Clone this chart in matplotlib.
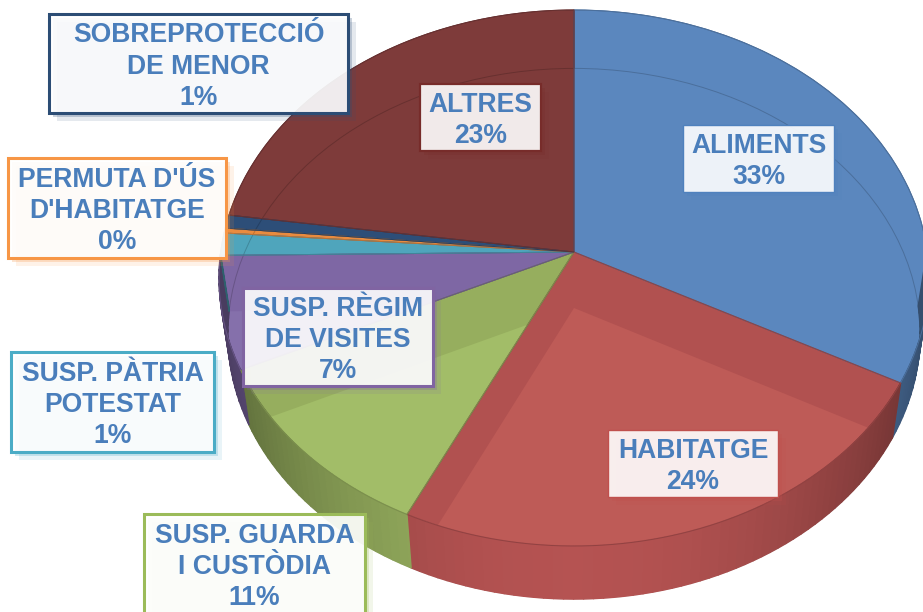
import numpy as np
import matplotlib
matplotlib.use('Agg')
import matplotlib.pyplot as plt
import matplotlib.patheffects as pe
from matplotlib.collections import PolyCollection
from matplotlib.colors import to_rgb
from matplotlib.patches import Circle, Polygon, Rectangle
from matplotlib.path import Path
from matplotlib.transforms import Transform

# Chart data
categories = ['ALIMENTS', 'HABITATGE', 'SUSP. GUARDA\nI CUSTÒDIA', 'SUSP. RÈGIM\nDE VISITES',
              'SUSP. PÀTRIA\nPOTESTAT', "PERMUTA D'ÚS\nD'HABITATGE", 'SOBREPROTECCIÓ\nDE MENOR', 'ALTRES']
values = [32.8, 24.3, 10.9, 6.8, 1.35, 0.3, 0.8, 22.75]
percent_labels = ['33%', '24%', '11%', '7%', '1%', '0%', '1%', '23%']

# Colours of the slices
top_colors = ['#5B87BE', '#B15150', '#96AE5E', '#7E67A4', '#4FA5BC', '#E98B3F', '#2D4E78', '#7E3B3A']
low_colors = ['#5B87BE', '#BE5B57', '#A2BD68', '#8570AB', '#4FA5BC', '#E98B3F', '#2D4E78', '#7E3B3A']
border_colors = ['#4F81BD', '#C0504D', '#9BBB59', '#8064A2', '#4BACC6', '#F79646', '#2C4D75', '#772C2A']

# Label boxes: left, top, right, bottom in pixels
label_boxes = [(683, 125, 834, 192), (608, 430, 778, 497), (144, 514, 365, 614), (243, 288, 433, 386),
               (11, 352, 214, 452), (8, 158, 226, 258), (49, 14, 348, 113), (420, 84, 541, 151)]
border_widths = [1.0, 1.0, 2.2, 2.2, 2.2, 2.2, 2.2, 1.6]


class Tilt(Transform):
    # Perspective view of the flat unit pie, the apex sits above the ellipse centre
    input_dims = 2
    output_dims = 2

    def __init__(self, scale_x=1.0, scale_y=1.0, shift=0.0):
        super().__init__()
        self.scale_x = scale_x
        self.scale_y = scale_y
        self.shift = shift

    def transform_non_affine(self, values):
        xy = np.asarray(values, dtype=float)
        w = 1 + 0.097 * xy[:, 1]
        px = 574 + self.scale_x * 353.3 * xy[:, 0] / w
        py = 252 + self.shift - self.scale_y * 265.5 * xy[:, 1] / w
        return np.column_stack([px, py])

    def transform_path_non_affine(self, path):
        return Path(self.transform_non_affine(path.vertices), path.codes)


def slice_outline(wedge, view):
    # Slice as a polygon in pixels: apex, then the arc
    t = np.radians(np.linspace(wedge.theta1, wedge.theta2, 60))
    unit = np.vstack([[0, 0], np.column_stack([np.cos(t), np.sin(t)])])
    return view.transform_non_affine(unit)


def clip_convex(poly, window):
    # Keep the part of poly inside the convex polygon window
    x, y = window[:, 0], window[:, 1]
    sign = np.sign(np.sum(x * np.roll(y, -1) - np.roll(x, -1) * y))
    out = list(poly)
    for a, b in zip(window, np.roll(window, -1, axis=0)):
        side = [sign * ((b - a)[0] * (p - a)[1] - (b - a)[1] * (p - a)[0]) for p in out]
        kept = []
        for i in range(len(out)):
            p, q = out[i], out[(i + 1) % len(out)]
            sp, sq = side[i], side[(i + 1) % len(out)]
            if sp >= 0:
                kept.append(p)
            if sp * sq < 0:
                kept.append(p + (q - p) * sp / (sp - sq))
        out = kept
        if not out:
            break
    return np.array(out)


top_view = Tilt()
low_view = Tilt(0.975, 0.99, 56)

fig = plt.figure(figsize=(9.23, 6.12), dpi=100)
ax = fig.add_axes([0, 0, 1, 1])

# Top face
wedges, _ = ax.pie(values, startangle=90, counterclock=False, colors=top_colors,
                   wedgeprops={'linewidth': 0.7, 'zorder': 2})
for w, c in zip(wedges, top_colors):
    w.set_transform(top_view + ax.transData)
    w.set_edgecolor(tuple(v * 0.82 for v in to_rgb(c)))

ax.set_aspect('auto')
ax.set_xlim(0, 923)
ax.set_ylim(612, 0)
ax.axis('off')

# Bottom face seen through the top one, each slice only shows inside its own top slice
for w, c in zip(wedges, low_colors):
    part = clip_convex(slice_outline(w, low_view), slice_outline(w, top_view))
    if len(part) > 2:
        ax.add_patch(Polygon(part, closed=True, facecolor=c, edgecolor='none', zorder=3))

inner_rim = Circle((0, 0), 1, fill=False, edgecolor=(0, 0, 0), alpha=0.18, linewidth=0.7, zorder=3.5,
                   transform=low_view + ax.transData)
ax.add_patch(inner_rim)

# Slice outlines stay on top of the inner face
for w, c in zip(wedges, top_colors):
    ax.add_patch(Polygon(slice_outline(w, top_view), closed=True, fill=False, linewidth=0.7,
                         edgecolor=tuple(v * 0.82 for v in to_rgb(c)), zorder=5))

# Front wall, split in short pieces so the shade can follow the angle
quads = []
quad_colors = []
for w, c in zip(wedges, top_colors):
    steps = np.arange(w.theta1, w.theta2 + 1.5, 1.5)
    steps[-1] = w.theta2
    for a, b in zip(steps[:-1], steps[1:]):
        if np.sin(np.radians((a + b) / 2)) > 0:
            continue
        t = np.radians([a, b])
        unit = np.column_stack([np.cos(t), np.sin(t)])
        upper = top_view.transform_non_affine(unit)
        lower = low_view.transform_non_affine(unit)
        quads.append(np.vstack([upper, lower[::-1]]))
        shade = 0.58 + 0.44 * np.sin(np.radians((a + b) / 2)) ** 2
        quad_colors.append(tuple(min(v * shade, 1) for v in to_rgb(c)))
ax.add_collection(PolyCollection(quads, facecolors=quad_colors, edgecolors=quad_colors,
                                 linewidths=1.0, zorder=4))

# Labels
for name, pct, box, col, lw in zip(categories, percent_labels, label_boxes, border_colors, border_widths):
    left, top, right, bottom = box
    rect = Rectangle((left, top), right - left, bottom - top, facecolor=(1, 1, 1, 0.9),
                     edgecolor=col, linewidth=lw, zorder=6)
    rect.set_path_effects([pe.SimplePatchShadow(offset=(6, -6), shadow_rgbFace=col, alpha=0.12),
                           pe.SimplePatchShadow(offset=(3, -3), shadow_rgbFace=col, alpha=0.25),
                           pe.Normal()])
    ax.add_patch(rect)
    ax.text((left + right) / 2, (top + bottom) / 2 + 3, name + '\n' + pct, ha='center', va='center',
            family='Liberation Sans', fontweight='bold', fontsize=19.1, color='#4A7EBB',
            linespacing=1.26, zorder=7)

fig.savefig('out.png', dpi=100)
